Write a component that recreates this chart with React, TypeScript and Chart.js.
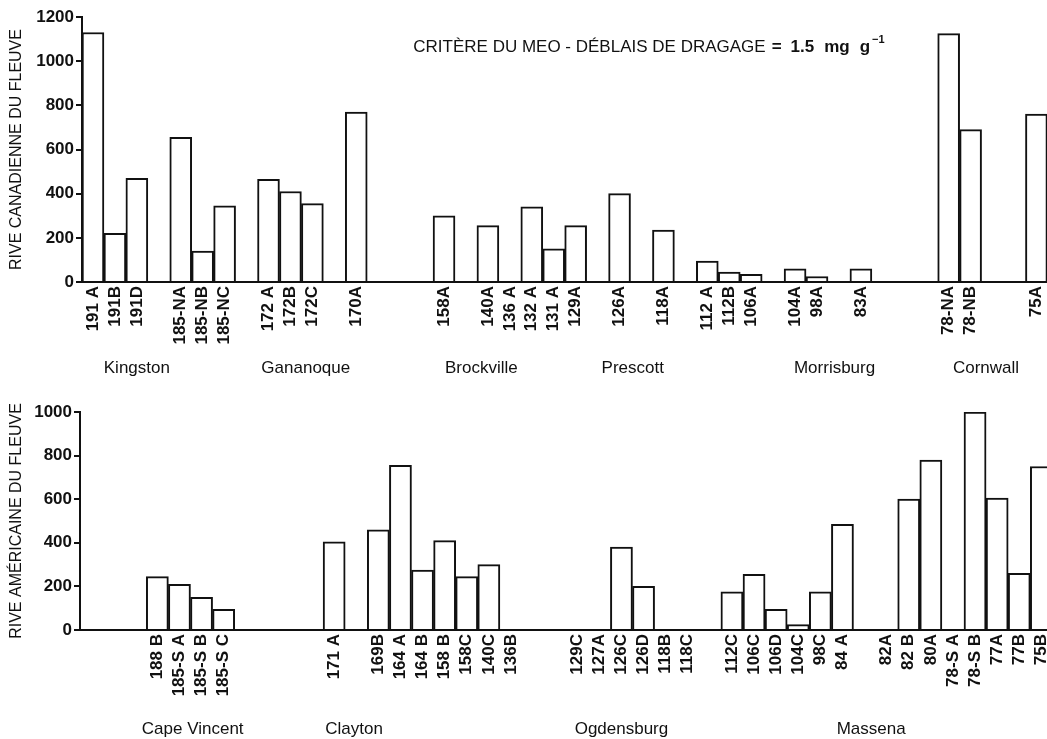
import React, { useEffect, useRef } from 'react';
import { Chart, registerables } from 'chart.js';

Chart.register(...registerables);

const FONT = "'Liberation Sans', Arial, Helvetica, sans-serif";
const INK = '#111111';

// Rive canadienne: one slot per sampling station, empty slots separate the sites
const canadianStations = [
  '191 A', '191B', '191D', '', '185-NA', '185-NB', '185-NC', '', '172 A', '172B', '172C', '',
  '170A', '', '', '', '158A', '', '140A', '136 A', '132 A', '131 A', '129A', '',
  '126A', '', '118A', '', '112 A', '112B', '106A', '', '104A', '98A', '', '83A',
  '', '', '', '78-NA', '78-NB', '', '', '75A',
];
const canadianValues: (number | null)[] = [
  1130, 220, 470, null, 655, 140, 345, null, 465, 410, 355, null,
  770, null, null, null, 300, null, 255, 0, 340, 150, 255, null,
  400, null, 235, null, 95, 45, 35, null, 60, 25, null, 60,
  null, null, null, 1125, 690, null, null, 760,
];
const canadianTowns = ['Kingston', 'Gananoque', 'Brockville', 'Prescott', 'Morrisburg', 'Cornwall'];
const canadianTownSlots = [2.0, 9.7, 17.7, 24.6, 33.8, 40.7];

// Rive américaine
const americanStations = [
  '', '', '', '188 B', '185-S A', '185-S B', '185-S C', '', '', '', '',
  '171 A', '', '169B', '164 A', '164 B', '158 B', '158C', '140C', '136B', '', '',
  '129C', '127A', '126C', '126D', '118B', '118C', '', '112C', '106C', '106D', '104C',
  '98C', '84 A', '', '82A', '82 B', '80A', '78-S A', '78-S B', '77A', '77B', '75B',
];
const americanValues: (number | null)[] = [
  null, null, null, 245, 210, 150, 95, null, null, null, null,
  405, null, 460, 755, 275, 410, 245, 300, 0, null, null,
  0, 0, 380, 200, 0, 0, null, 175, 255, 95, 25,
  175, 485, null, 0, 600, 780, 0, 1000, 605, 260, 750,
];
const americanTowns = ['Cape Vincent', 'Clayton', 'Ogdensburg', 'Massena'];
const americanTownSlots = [4.6, 11.9, 24.0, 35.3];

const canadianTicksMax = 1200;
const americanTicksMax = 1000;

const criterionText = 'CRITÈRE DU MEO - DÉBLAIS DE DRAGAGE';
const criterionValue = '1.5 mg g';
const criterionExponent = '−1';

type PanelProps = {
  stations: string[];
  values: (number | null)[];
  yMax: number;
  axisTitle: string;
  towns: string[];
  townSlots: number[];
  townOffset: number;
  top: number;
  height: number;
  padTop: number;
  padRight: number;
  axisWidth: number;
  axisHeight: number;
  criterion?: boolean;
};

const CANVAS_W = 1080;

function Panel(p: PanelProps) {
  const ref = useRef<HTMLCanvasElement | null>(null);

  useEffect(() => {
    if (!ref.current) return;

    const townsPlugin = {
      id: 'townNames',
      afterDraw(chart: any) {
        const ctx = chart.ctx;
        const xs = chart.scales.x;
        ctx.save();
        ctx.fillStyle = INK;
        ctx.font = `17px ${FONT}`;
        ctx.textAlign = 'center';
        ctx.textBaseline = 'middle';
        p.towns.forEach((t, i) => {
          ctx.fillText(t, xs.getPixelForValue(p.townSlots[i]), chart.chartArea.bottom + p.townOffset);
        });
        if (p.criterion) {
          const x0 = xs.getPixelForValue(14.6);
          const y0 = chart.scales.y.getPixelForValue(1062);
          ctx.textAlign = 'left';
          ctx.font = `17px ${FONT}`;
          ctx.fillText(criterionText, x0, y0);
          let x = x0 + ctx.measureText(criterionText).width + 6;
          ctx.font = `bold 17px ${FONT}`;
          ctx.fillText('=', x, y0);
          x += ctx.measureText('=').width + 9;
          const parts = criterionValue.split(' ');
          parts.forEach((part, i) => {
            ctx.fillText(part, x, y0);
            x += ctx.measureText(part).width + (i < parts.length - 1 ? 10 : 2);
          });
          ctx.font = `bold 11px ${FONT}`;
          ctx.fillText(criterionExponent, x, y0 - 8);
        }
        ctx.restore();
      },
    };

    const chart = new Chart(ref.current, {
      type: 'bar',
      data: {
        labels: p.stations,
        datasets: [
          {
            data: p.values,
            backgroundColor: '#ffffff',
            borderColor: INK,
            borderWidth: 2,
            borderSkipped: 'start',
            categoryPercentage: 1,
            barPercentage: 1,
          },
        ],
      },
      options: {
        animation: false,
        responsive: false,
        devicePixelRatio: 1,
        layout: { padding: { left: 0, top: p.padTop, right: p.padRight, bottom: 0 } },
        plugins: {
          legend: { display: false },
          tooltip: { enabled: false },
        },
        scales: {
          x: {
            type: 'category',
            offset: true,
            grid: { display: false },
            border: { display: true, color: INK, width: 2 },
            ticks: {
              autoSkip: false,
              maxRotation: 90,
              minRotation: 90,
              padding: -4,
              color: INK,
              font: { family: FONT, size: 17, weight: 'bold' },
            },
            afterFit: (scale: any) => {
              scale.height = p.axisHeight;
            },
          },
          y: {
            min: 0,
            max: p.yMax,
            ticks: {
              stepSize: 200,
              padding: 2,
              color: INK,
              font: { family: FONT, size: 17, weight: 'bold' },
              callback: (v: any) => String(v),
            },
            grid: {
              drawOnChartArea: false,
              drawTicks: true,
              tickLength: 6,
              color: INK,
              lineWidth: 2,
            },
            border: { display: true, color: INK, width: 2 },
            title: {
              display: true,
              text: p.axisTitle,
              color: INK,
              padding: { top: 7, bottom: 0 },
              font: { family: FONT, size: 16 },
            },
            afterFit: (scale: any) => {
              scale.width = p.axisWidth;
            },
          },
        },
      },
      plugins: [townsPlugin],
    } as any);

    return () => chart.destroy();
  }, []);

  return (
    <canvas
      ref={ref}
      width={CANVAS_W}
      height={p.height}
      style={{ position: 'absolute', left: 0, top: p.top, width: CANVAS_W, height: p.height }}
    />
  );
}

export default function App() {
  return (
    <div
      style={{
        position: 'fixed',
        left: 0,
        top: 0,
        width: 1047,
        height: 739,
        overflow: 'hidden',
        background: '#ffffff',
      }}
    >
      <Panel
        stations={canadianStations}
        values={canadianValues}
        yMax={canadianTicksMax}
        axisTitle="RIVE CANADIENNE DU FLEUVE"
        towns={canadianTowns}
        townSlots={canadianTownSlots}
        townOffset={86}
        top={0}
        height={390}
        padTop={17}
        padRight={CANVAS_W - 1047.4}
        axisWidth={82}
        axisHeight={108}
        criterion
      />
      <Panel
        stations={americanStations}
        values={americanValues}
        yMax={americanTicksMax}
        axisTitle="RIVE AMÉRICAINE DU FLEUVE"
        towns={americanTowns}
        townSlots={americanTownSlots}
        townOffset={99}
        top={390}
        height={349}
        padTop={22}
        padRight={CANVAS_W - 1052.4}
        axisWidth={80}
        axisHeight={109}
      />
    </div>
  );
}
